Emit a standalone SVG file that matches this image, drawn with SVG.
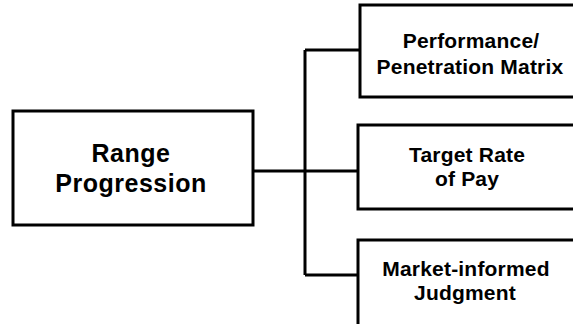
<svg xmlns="http://www.w3.org/2000/svg" width="573" height="324" viewBox="0 0 573 324">
<style>
.box{fill:#fff;stroke:#000;stroke-width:3}
.conn{fill:none;stroke:#000;stroke-width:3}
text{font-family:"Liberation Sans",Arial,sans-serif;font-weight:bold;fill:#000;text-anchor:middle}
.big{font-size:25px;letter-spacing:0.5px}
.sm{font-size:21px;letter-spacing:0.2px}
</style>
<rect width="573" height="324" fill="#fff"/>
<g id="connectors">
<path class="conn" d="M253 171H358M305 50V275M305 50H360M305 275H358"/>
</g>
<g id="range">
<rect class="box" x="13" y="111" width="240" height="114"/>
<text class="big" x="131" y="162">Range</text>
<text class="big" x="131" y="192">Progression</text>
</g>
<g id="performance">
<rect class="box" x="360" y="5" width="230" height="92"/>
<text class="sm" x="471" y="48">Performance/</text>
<text class="sm" x="470" y="74">Penetration Matrix</text>
</g>
<g id="target">
<rect class="box" x="358" y="125" width="232" height="84"/>
<text class="sm" x="467" y="162">Target Rate</text>
<text class="sm" x="467" y="186">of Pay</text>
</g>
<g id="market">
<rect class="box" x="358" y="240" width="232" height="100"/>
<text class="sm" x="466" y="276">Market-informed</text>
<text class="sm" x="465" y="300">Judgment</text>
</g>
</svg>
